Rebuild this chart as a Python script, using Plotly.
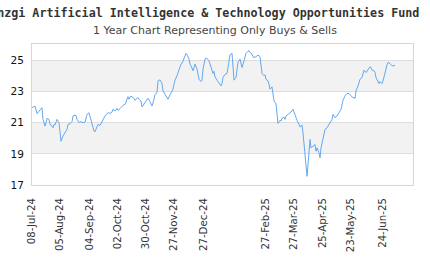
import pandas as pd
import plotly.graph_objects as go

# day offsets from 2024-07-08 and closing prices
day_offsets = [0, 3, 5, 6, 9, 10, 11, 13, 14, 15, 17, 18, 19, 21, 22, 23, 25, 27, 28, 29,
               31, 32, 33, 35, 36, 38, 40, 41, 42, 44, 45, 47, 49, 51, 53, 55, 57, 58, 60, 62,
               63, 65, 66, 68, 70, 71, 73, 75, 76, 78, 80, 81, 83, 85, 86, 88, 90, 91, 93, 95,
               96, 97, 99, 100, 102, 103, 104, 106, 107, 109, 110, 112, 113, 115, 116, 118, 119, 120, 122, 123,
               125, 126, 128, 130, 131, 133, 135, 136, 137, 139, 141, 142, 143, 145, 146, 147, 149, 150, 151, 153,
               154, 155, 157, 158, 159, 161, 162, 163, 165, 166, 167, 169, 170, 171, 173, 174, 175, 177, 178, 179,
               181, 182, 183, 185, 186, 187, 189, 190, 191, 193, 195, 196, 197, 198, 200, 201, 202, 204, 205, 206,
               208, 209, 210, 212, 213, 214, 216, 217, 218, 220, 221, 222, 224, 225, 226, 228, 229, 230, 232, 233,
               234, 236, 237, 238, 240, 241, 242, 244, 245, 246, 248, 249, 250, 252, 253, 254, 256, 257, 258, 260,
               261, 263, 264, 265, 267, 268, 269, 270, 271, 273, 274, 275, 276, 277, 278, 279, 280, 281, 283, 284,
               285, 287, 288, 289, 291, 292, 293, 295, 296, 297, 299, 300, 301, 302, 303, 305, 306, 307, 309, 310,
               311, 313, 314, 315, 317, 318, 319, 321, 322, 323, 324, 326, 327, 328, 330, 331, 332, 334, 335, 336,
               338, 339, 340, 342, 343, 344, 346, 347, 348, 350, 351, 352, 354, 355, 356, 358, 359, 360, 362, 363]

prices = [21.96, 22.07, 21.58, 21.64, 21.90, 21.96, 21.21, 20.78, 21.00, 21.28, 21.21, 20.89, 20.85, 20.67, 20.89, 20.85, 21.21, 21.00, 20.42, 19.81,
          20.14, 20.24, 20.29, 20.57, 20.89, 20.93, 21.06, 21.43, 21.47, 21.47, 21.21, 21.00, 21.06, 21.00, 21.04, 21.53, 21.64, 21.43, 21.00, 20.46,
          20.42, 20.78, 20.89, 20.82, 21.06, 21.28, 21.43, 21.58, 21.64, 21.60, 21.68, 21.86, 21.75, 21.92, 21.79, 21.90, 22.07, 22.11, 22.18, 22.57,
          22.67, 22.50, 22.72, 22.65, 22.57, 22.44, 22.50, 22.61, 22.50, 22.39, 22.01, 22.18, 22.29, 22.44, 22.57, 22.35, 22.18, 22.07, 22.50, 22.82,
          22.93, 23.68, 23.75, 23.51, 23.04, 22.82, 22.65, 22.50, 22.65, 22.87, 23.15, 23.47, 23.73, 24.01, 24.22, 24.50, 24.76, 24.80, 24.97, 25.19,
          25.45, 25.36, 25.08, 24.76, 24.65, 24.33, 24.50, 24.76, 24.44, 24.01, 23.79, 23.64, 23.73, 24.44, 25.08, 25.15, 25.13, 24.97, 24.76, 24.54,
          24.16, 24.29, 23.94, 23.73, 23.64, 23.51, 23.36, 23.51, 23.90, 24.10, 24.16, 24.54, 25.08, 25.36, 25.45, 24.76, 23.73, 23.90, 24.44, 24.87,
          25.08, 24.87, 24.54, 24.97, 25.30, 25.45, 25.58, 25.62, 25.51, 25.40, 25.23, 25.19, 25.23, 25.30, 25.34, 25.23, 24.44, 24.16, 24.01, 24.07,
          23.79, 23.68, 23.47, 23.15, 23.30, 22.82, 22.39, 22.22, 21.43, 20.95, 21.15, 21.10, 21.28, 21.36, 21.21, 21.43, 21.53, 21.58, 21.60, 21.75,
          21.86, 21.43, 21.21, 21.15, 20.89, 20.72, 20.78, 20.85, 20.35, 19.17, 18.20, 17.56, 18.30, 19.50, 19.92, 19.38, 19.43, 19.49, 19.60, 19.17,
          19.38, 19.06, 18.74, 19.38, 19.92, 20.24, 20.57, 20.67, 20.78, 20.89, 21.06, 21.21, 21.53, 21.43, 21.32, 21.43, 21.53, 21.64, 21.86, 22.14,
          22.44, 22.72, 22.82, 22.87, 22.87, 22.78, 22.72, 22.61, 22.61, 22.55, 23.04, 23.36, 23.64, 23.79, 23.90, 24.16, 24.37, 24.22, 24.33, 24.44,
          24.59, 24.54, 24.37, 24.33, 24.22, 23.90, 23.64, 23.51, 23.64, 23.51, 23.68, 24.01, 24.44, 24.72, 24.87, 24.80, 24.72, 24.65, 24.65, 24.70]

tick_dates = ["2024-07-08", "2024-08-05", "2024-09-04", "2024-10-02", "2024-10-30", "2024-11-27",
              "2024-12-27", "2025-02-27", "2025-03-27", "2025-04-25", "2025-05-23", "2025-06-24"]
tick_labels = ["08-Jul-24", "05-Aug-24", "04-Sep-24", "02-Oct-24", "30-Oct-24", "27-Nov-24",
               "27-Dec-24", "27-Feb-25", "27-Mar-25", "25-Apr-25", "23-May-25", "24-Jun-25"]
y_ticks = [17, 19, 21, 23, 25]
band_ranges = [(19, 21), (23, 25)]

title_text = "Allianzgi Artificial Intelligence & Technology Opportunities Fund"
subtitle_text = "1 Year Chart Representing Only Buys & Sells"

base = pd.Timestamp("2024-07-08")
dates = [base + pd.Timedelta(days=d) for d in day_offsets]

fig = go.Figure()
fig.add_trace(go.Scatter(x=dates, y=prices, mode="lines",
                         line=dict(color="#64a8f0", width=1), hoverinfo="skip"))

shapes = []
for lo, hi in band_ranges:
    shapes.append(dict(type="rect", xref="paper", yref="y", x0=0, x1=1, y0=lo, y1=hi,
                       fillcolor="#f2f2f2", line=dict(width=0), layer="below"))

fig.update_layout(
    width=430, height=260,
    margin=dict(l=32, r=17, t=44, b=75, autoexpand=False),
    paper_bgcolor="white", plot_bgcolor="white",
    showlegend=False,
    shapes=shapes,
    font=dict(family="DejaVu Sans", size=10.5, color="#222"),
    xaxis=dict(type="date", range=["2024-07-08", "2025-07-24"], automargin=False,
               tickvals=tick_dates, ticktext=tick_labels, tickangle=-90,
               showgrid=False, zeroline=False, showline=True, mirror=True,
               linecolor="#d6d6d6", linewidth=1, ticks="", ticklabelstandoff=8,
               tickfont=dict(family="DejaVu Sans", size=10.2, color="#333")),
    yaxis=dict(range=[17, 26.05], tickvals=y_ticks, showgrid=True, gridcolor="#dddddd",
               gridwidth=1, zeroline=False, showline=True, mirror=True, automargin=False,
               linecolor="#d6d6d6", linewidth=1, ticks="", ticklabelstandoff=5,
               tickfont=dict(family="DejaVu Sans", size=10.5, color="#111")),
    annotations=[
        dict(text="<b>" + title_text + "</b>", xref="paper", yref="paper",
             x=(421 - 32) / 381, y=(185 - 13) / 141, xanchor="right", yanchor="middle",
             showarrow=False, font=dict(family="DejaVu Sans Mono", size=11.7, color="#333")),
        dict(text=subtitle_text, xref="paper", yref="paper",
             x=(215 - 32) / 381, y=(185 - 31) / 141, xanchor="center", yanchor="middle",
             showarrow=False, font=dict(family="DejaVu Sans", size=11, color="#444")),
    ],
)

fig.write_html("out.html")
